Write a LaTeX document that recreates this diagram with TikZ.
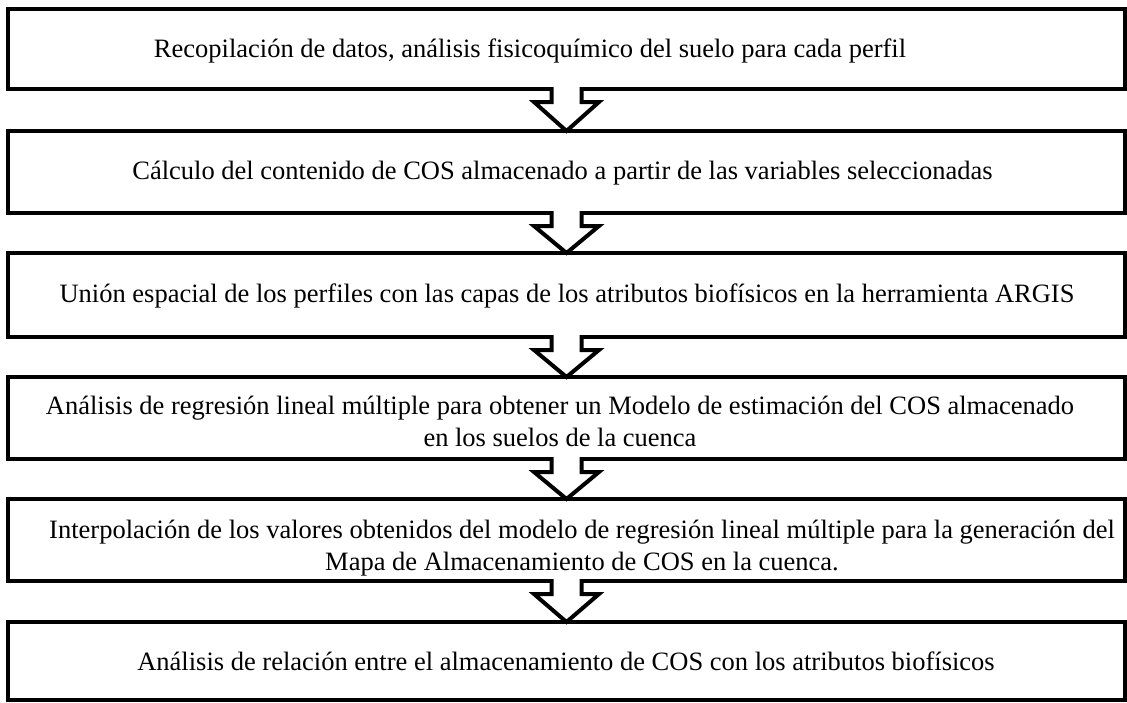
\documentclass[tikz,border=0pt]{standalone}
\usepackage{fontspec}
\setmainfont{Liberation Serif}
\usetikzlibrary{calc}
\newcommand\flowarrow[2]{%
  \filldraw[flowarrowstyle]
    ($(#1.south)+(-15,-2)$) -- ($(#1.south)+(-15,13)$) -- ($(#1.south)+(-32.5,13)$)
    -- (#2.north) -- ($(#1.south)+(32.5,13)$) -- ($(#1.south)+(15,13)$)
    -- ($(#1.south)+(15,-2)$);%
}
\begin{document}
\begin{tikzpicture}[x=1pt,y=-1pt,
  stepbox/.style={draw=black, line width=4pt, rectangle, inner sep=0pt, outer sep=0pt, minimum width=1117pt},
  steptext/.style={font=\fontsize{26.5}{32}\selectfont, align=center, inner sep=0pt, outer sep=0pt},
  flowarrowstyle/.style={draw=black, fill=white, line width=4pt, line join=miter, miter limit=10}]
\useasboundingbox (0,0) rectangle (1127,702);
\fill[white] (0,0) rectangle (1127,702);

\node[stepbox, minimum height=80pt] (b1) at (566.5,49) {};
\node[stepbox, minimum height=82pt] (b2) at (566.5,172) {};
\node[stepbox, minimum height=84pt] (b3) at (566.5,295) {};
\node[stepbox, minimum height=82pt] (b4) at (566.5,418) {};
\node[stepbox, minimum height=82pt] (b5) at (566.5,540) {};
\node[stepbox, minimum height=78pt] (b6) at (566.5,661) {};

\flowarrow{b1}{b2}
\flowarrow{b2}{b3}
\flowarrow{b3}{b4}
\flowarrow{b4}{b5}
\flowarrow{b5}{b6}

\node[steptext, anchor=base] (t1) at (530,57) {Recopilación de datos, análisis fisicoquímico del suelo para cada perfil};
\node[steptext, anchor=base] (t2) at (562.5,179) {Cálculo del contenido de COS almacenado a partir de las variables seleccionadas};
\node[steptext, anchor=base] (t3) at (567,302) {Unión espacial de los perfiles con las capas de los atributos biofísicos en la herramienta ARGIS};
\node[steptext] (t4) at (560,421) {Análisis de regresión lineal múltiple para obtener un Modelo de estimación del COS almacenado\\en los suelos de la cuenca};
\node[steptext] (t5) at (582,548) {Interpolación de los valores obtenidos del modelo de regresión lineal múltiple para la generación del\\Mapa de Almacenamiento de COS en la cuenca.};
\node[steptext, anchor=base] (t6) at (566,670) {Análisis de relación entre el almacenamiento de COS con los atributos biofísicos};
\end{tikzpicture}
\end{document}
